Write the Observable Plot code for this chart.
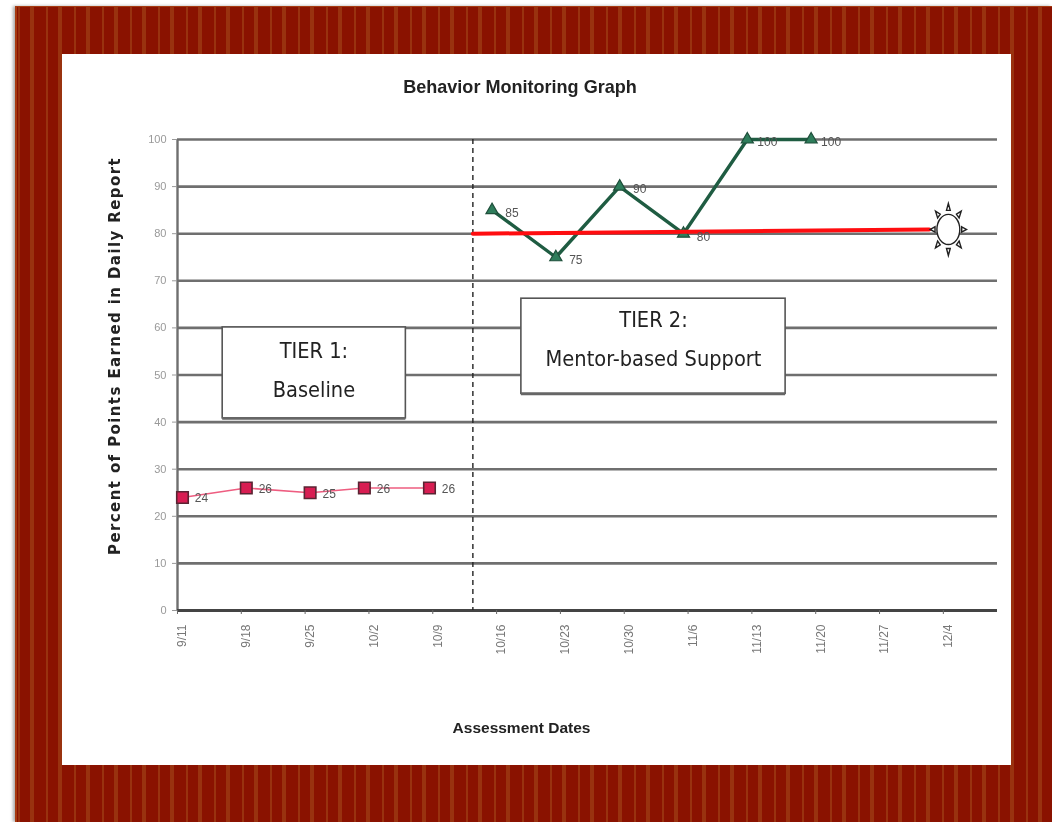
<!DOCTYPE html>
<html>
<head>
<meta charset="utf-8">
<script src="https://cdn.jsdelivr.net/npm/d3@7"></script>
<script src="https://cdn.jsdelivr.net/npm/@observablehq/plot@0.6"></script>
<style>
html,body{margin:0;padding:0;background:#fff;width:1052px;height:822px;overflow:hidden}
#frame{position:absolute;left:15px;top:6px;width:1037px;height:816px;background-color:#8a1200;
 background-image:linear-gradient(90deg,#99320f 0,#99320f 4px,transparent 4px,transparent 16px,#99320f 16px,#99320f 18px,transparent 18px);
 background-size:28px 100%;background-position:-13px 0;box-shadow:inset 2px 1px 0 #a63a10,-2px 0 3px #aaa}
#panel{position:absolute;left:62px;top:54px;width:949px;height:711px;background:#fff}
#title{position:absolute;left:0;width:916px;top:22px;text-align:center;font:bold 19px "Liberation Sans",sans-serif;color:#222;filter:blur(.6px);transform:scaleX(.95)}
#chart{position:absolute;left:0;top:51px;filter:blur(.7px)}
.ylabel text{letter-spacing:1.4px}
</style>
</head>
<body>
<div id="frame"></div>
<div id="panel">
  <div id="title">Behavior Monitoring Graph</div>
  <div id="chart"></div>
</div>
<script>
const dateLabels = ["9/11","9/18","9/25","10/2","10/9","10/16","10/23","10/30","11/6","11/13","11/20","11/27","12/4"];
const yTicks = [0,10,20,30,40,50,60,70,80,90,100];

const tier1Weeks = [0,1,2,2.85,3.87];
const tier1Values = [24,26,25,26,26];
const tier2Weeks = [4.85,5.85,6.85,7.85,8.85,9.85];
const tier2Values = [85,75,90,80,100,100];

const goalWeeks = [4.55,11.7];
const goalValues = [80,80.9];
const phaseChangeWeek = 4.55;
const rewardWeek = [12.0];
const rewardValue = [80.9];

const boxX1 = [0.63,5.31];
const boxX2 = [3.5,9.45];
const boxTop = [60.1,66.2];
const boxBottom = [40.8,46];
const noteX = [2.06,2.06,7.38,7.38];
const noteY = [55,46.7,61.6,53.3];
const noteText = ["TIER 1:","Baseline","TIER 2:","Mentor-based Support"];

const tier1 = tier1Weeks.map((x,i)=>({x,y:tier1Values[i]}));
const tier2 = tier2Weeks.map((x,i)=>({x,y:tier2Values[i]}));
const goal = goalWeeks.map((x,i)=>({x,y:goalValues[i]}));
const boxes = boxX1.map((x1,i)=>({x1,x2:boxX2[i],y1:boxBottom[i],y2:boxTop[i]}));
const notes = noteX.map((x,i)=>({x,y:noteY[i],t:noteText[i]}));
const reward = rewardWeek.map((x,i)=>({x,y:rewardValue[i]}));

const sun = {draw(c,size){
  const r=Math.sqrt(size/Math.PI), rx=r*.44, ry=r*.58, k=.5523;
  c.moveTo(rx,0);
  c.bezierCurveTo(rx,k*ry,k*rx,ry,0,ry);
  c.bezierCurveTo(-k*rx,ry,-rx,k*ry,-rx,0);
  c.bezierCurveTo(-rx,-k*ry,-k*rx,-ry,0,-ry);
  c.bezierCurveTo(k*rx,-ry,rx,-k*ry,rx,0);
  c.closePath();
  for(let i=0;i<8;i++){
    const a=i*Math.PI/4, w=.14;
    const px=(q,t)=>[Math.cos(t)*r*.7*q,Math.sin(t)*r*q];
    const [ax,ay]=px(.74,a-w),[bx,by]=px(.74,a+w),[tx,ty]=px(1,a);
    c.moveTo(ax,ay);c.lineTo(tx,ty);c.lineTo(bx,by);c.closePath();
  }
}};

const chart = Plot.plot({
  width:949,height:650,
  marginLeft:115,marginRight:14,marginTop:34,marginBottom:145,
  style:{background:"transparent",fontFamily:"Liberation Sans"},
  x:{domain:[-0.078,12.77],label:null},
  y:{domain:[0,100],label:null},
  marks:[
    Plot.ruleY(yTicks,{stroke:"#6f6f6f",strokeWidth:2.6}),
    Plot.ruleX([-0.078],{stroke:"#6f6f6f",strokeWidth:2.4}),
    Plot.ruleY([0],{stroke:"#444",strokeWidth:2.8}),
    Plot.axisY({ticks:yTicks,tickSize:5,tickPadding:6,fontSize:11,color:"#999",label:null}),
    Plot.axisX({ticks:d3.range(13),tickSize:4,dx:-5,tickFormat:()=>"",color:"#666",label:null}),
    Plot.axisX({ticks:d3.range(13),tickSize:0,tickPadding:14,tickRotate:-90,fontSize:12,color:"#777",
      tickFormat:i=>dateLabels[i],label:null}),
    Plot.ruleX([phaseChangeWeek],{stroke:"#222",strokeWidth:1.4,strokeDasharray:"5,4"}),
    Plot.rect(boxes,{x1:"x1",x2:"x2",y1:"y1",y2:"y2",fill:"#fff",stroke:"#555",strokeWidth:1.6}),
    Plot.ruleY(boxes,{x1:"x1",x2:"x2",y:"y1",stroke:"#666",strokeWidth:2.6}),
    Plot.text(notes,{x:"x",y:"y",text:"t",fontSize:21.6,fill:"#222",fontFamily:"DejaVu Sans Condensed, Noto Sans"}),
    Plot.line(tier1,{x:"x",y:"y",stroke:"#ee5d80",strokeWidth:1.6}),
    Plot.dot(tier1,{x:"x",y:"y",symbol:"square",r:6.5,fill:"#d81d52",stroke:"#5a2433",strokeWidth:1.6}),
    Plot.text(tier1,{x:"x",y:"y",text:"y",dx:19,dy:1,fontSize:12,fill:"#555"}),
    Plot.line(tier2,{x:"x",y:"y",stroke:"#1f5c42",strokeWidth:3.4}),
    Plot.dot(tier2,{x:"x",y:"y",symbol:"triangle",r:4.5,fill:"#2e7d5b",stroke:"#1f4f3b",strokeWidth:1.2}),
    Plot.line(goal,{x:"x",y:"y",stroke:"#ff0d10",strokeWidth:4}),
    Plot.text(tier2,{x:"x",y:"y",text:"y",dx:20,dy:3,fontSize:12,fill:"#555"}),
    Plot.dot(reward,{x:"x",y:"y",symbol:sun,r:26,fill:"#fff",stroke:"#222",strokeWidth:1.4}),
    Plot.text(["Percent of Points Earned in Daily Report"],{frameAnchor:"left",textAnchor:"middle",rotate:-90,dx:-62,dy:-19,
      fontSize:15,fontWeight:"bold",fill:"#222",fontFamily:"DejaVu Sans",className:"ylabel"}),
    Plot.text(["Assessment Dates"],{frameAnchor:"bottom",dx:-66,dy:122,fontSize:15.5,fontWeight:"bold",fill:"#222"})
  ]
});
document.getElementById("chart").appendChild(chart);
</script>
</body>
</html>
